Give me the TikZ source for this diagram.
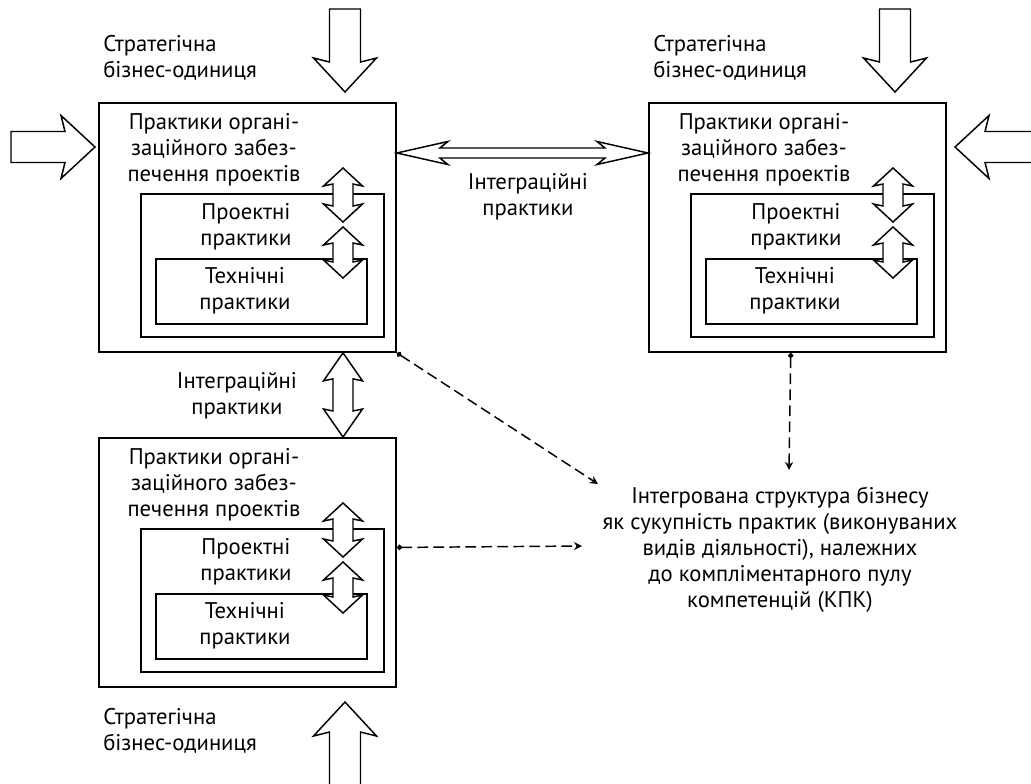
\documentclass[tikz,border=0pt]{standalone}
\usepackage{fontspec}
\setmainfont{PT Sans}
\usetikzlibrary{arrows.meta,calc}

\tikzset{
  box/.style={draw, line width=1.4pt, anchor=north west, inner sep=0pt},
  txt/.style={align=center, inner sep=0pt},
  blk/.style={draw, fill=white, line width=1.1pt},
  dasharr/.style={line width=1.1pt, dash pattern=on 8pt off 4pt,
    {Circle[length=4pt]}-{Stealth[length=6pt,width=6pt]}},
  bigarr/.pic={\draw[blk] (0,0) -- (-34,-31.5) -- (-30,-15.5) -- (-#1,-15.5)
    -- (-#1,15.5) -- (-30,15.5) -- (-34,31.5) -- cycle;}
}

% vertical double block arrow: top tip, bottom tip, head length
\newcommand{\vdblarr}[3]{%
  \draw[blk] (#1) -- ($(#1)+(19.5,#3)$) -- ($(#1)+(10,#3-2)$) -- ($(#2)+(10,2-#3)$)
    -- ($(#2)+(19.5,-#3)$) -- (#2) -- ($(#2)+(-19.5,-#3)$) -- ($(#2)+(-10,2-#3)$)
    -- ($(#1)+(-10,#3-2)$) -- ($(#1)+(-19.5,#3)$) -- cycle;}

\begin{document}
\begin{tikzpicture}[x=0.75pt, y=-0.75pt, font=\fontsize{17}{19.5}\selectfont]
\useasboundingbox (0,0) rectangle (1031,783);
\clip (0,0) rectangle (1031,783);

% three business units
\foreach \name/\dx/\dy in {A/0/0, B/550/0, C/0/335} {
  \begin{scope}[shift={(\dx,\dy)}]
    \node[box, minimum width=222.75pt, minimum height=186.75pt] (out\name) at (98,102) {};
    \node[box, minimum width=182.25pt, minimum height=107.25pt] (mid\name) at (140,193) {};
    \node[box, minimum width=158.25pt, minimum height=48.75pt] (inn\name) at (155,258) {};
    \node[txt] (org\name) at (214,150) {Практики органі-\\заційного забез-\\печення проектів};
    \node[txt] (proj\name) at (246,227) {Проектні\\практики};
    \node[txt] (tech\name) at (245,291) {Технічні\\практики};
    \coordinate (ta\name) at (343,168);
    \coordinate (ba\name) at (343,222);
    \coordinate (tb\name) at (343,227);
    \coordinate (bb\name) at (343,278);
  \end{scope}
}
\foreach \name in {A,B,C} {
  \vdblarr{ta\name}{ba\name}{18}
  \vdblarr{tb\name}{bb\name}{18}
}

% integration practices
\coordinate (intT) at (outA.south -| 343,0);
\coordinate (intB) at (outC.north -| 343,0);
\vdblarr{intT}{intB}{28}
\coordinate (intL) at (outA.east |- 0,153);
\coordinate (intR) at (outB.west |- 0,153);
\draw[blk] (intL) -- ($(intL)+(51,-11.5)$) -- ($(intL)+(43,-5)$) -- ($(intR)+(-43,-5)$)
  -- ($(intR)+(-51,-11.5)$) -- (intR) -- ($(intR)+(-51,11.5)$) -- ($(intR)+(-43,5)$)
  -- ($(intL)+(43,5)$) -- ($(intL)+(51,11.5)$) -- cycle;
\node[txt] (intlabH) at (528,197) {Інтеграційні\\практики};
\node[txt] (intlabV) at (237,396) {Інтеграційні\\практики};

% strategic business units
\node[txt, anchor=west, align=left] (sbuA) at (103,58) {Стратегічна\\бізнес-одиниця};
\node[txt, anchor=west, align=left] (sbuB) at (653,58) {Стратегічна\\бізнес-одиниця};
\node[txt, anchor=west, align=left] (sbuC) at (103,731) {Стратегічна\\бізнес-одиниця};
\pic[rotate=-90] at (345,92) {bigarr=83};
\pic[rotate=-90] at (895,92) {bigarr=83};
\pic at (95,147) {bigarr=84};
\pic[rotate=180] at (955,147) {bigarr=100};
\pic[rotate=90] at (345,702) {bigarr=100};

% integrated structure
\node[txt] (kpk) at (780,550) {Інтегрована структура бізнесу\\як сукупність практик (виконуваних\\видів діяльності), належних\\до компліментарного пулу\\компетенцій (КПК)};
\coordinate (kpkA) at (598,484);
\coordinate (kpkB) at (789,470);
\coordinate (kpkC) at (582,546);
\draw[dasharr] (outA.south east) -- (kpkA);
\draw[dasharr] ([xshift=-5pt]outB.south) -- (kpkB);
\draw[dasharr] ([yshift=11.25pt]outC.east) -- (kpkC);
\end{tikzpicture}
\end{document}
